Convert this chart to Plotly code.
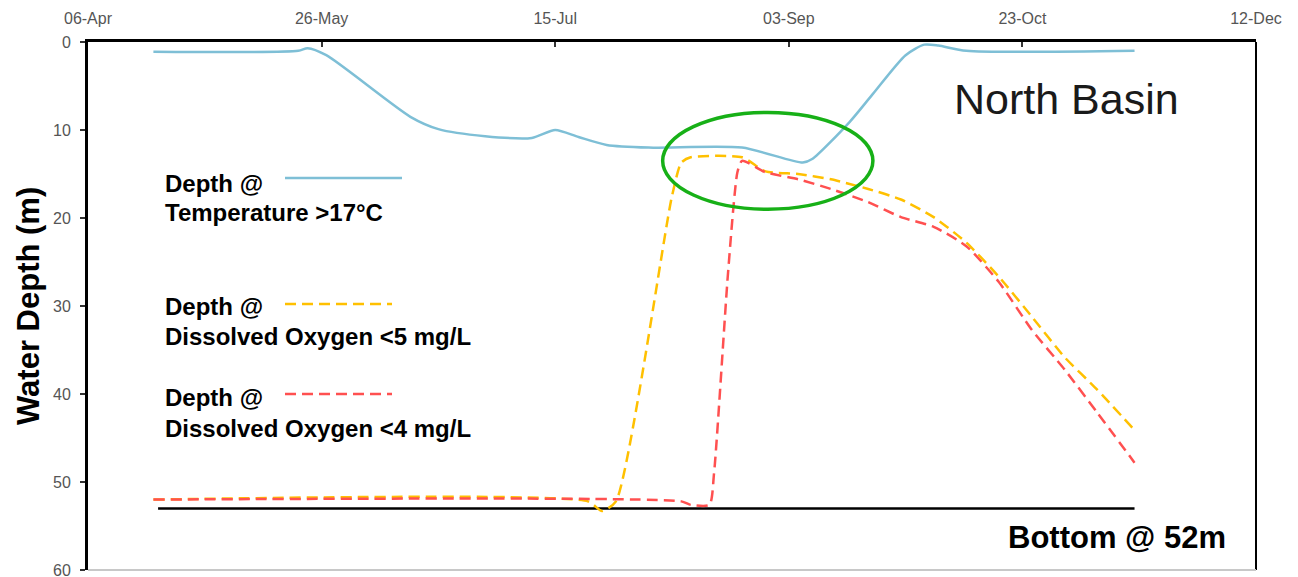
import plotly.graph_objects as go

# ---------------- data ----------------
temp_dates = ["2011-04-20", "2011-05-21", "2011-05-23", "2011-05-27", "2011-06-14",
              "2011-06-20", "2011-06-30", "2011-07-10", "2011-07-15", "2011-07-20",
              "2011-07-26", "2011-08-04", "2011-08-24", "2011-09-06", "2011-09-08",
              "2011-09-16", "2011-09-21", "2011-09-28", "2011-10-02", "2011-10-05",
              "2011-10-11", "2011-11-16"]
temp_depth = [1.1, 1.0, 0.7, 1.5, 8.5, 9.9, 10.7, 10.9, 10.0, 10.8,
              11.7, 12.0, 12.0, 13.7, 13.3, 9.1, 5.9, 1.5, 0.3, 0.4,
              1.0, 1.0]

do5_dates = ["2011-04-20", "2011-07-22", "2011-07-25", "2011-07-28", "2011-08-09",
             "2011-08-11", "2011-08-13", "2011-08-24", "2011-08-29", "2011-09-05",
             "2011-09-12", "2011-09-20", "2011-09-27", "2011-10-04", "2011-10-11",
             "2011-10-18", "2011-10-25", "2011-11-01", "2011-11-08", "2011-11-16"]
do5_depth = [52.0, 52.2, 53.3, 52.2, 17.5, 13.7, 13.1, 13.1, 14.7, 15.0,
             15.6, 16.7, 17.9, 19.9, 22.8, 26.7, 31.2, 35.8, 39.5, 44.1]

do4_dates = ["2011-04-20", "2011-08-11", "2011-08-13", "2011-08-17", "2011-08-18",
             "2011-08-21", "2011-08-23", "2011-08-24", "2011-08-29", "2011-09-05",
             "2011-09-12", "2011-09-20", "2011-09-27", "2011-10-04", "2011-10-11",
             "2011-10-18", "2011-10-25", "2011-11-01", "2011-11-08", "2011-11-16"]
do4_depth = [52.0, 52.2, 52.6, 52.6, 49.0, 26.2, 14.8, 13.5, 14.8, 15.6,
             16.7, 18.2, 19.9, 21.0, 23.2, 27.3, 32.7, 37.2, 42.1, 47.8]

bottom_dates = ["2011-04-21", "2011-11-16"]
bottom_depth = [53, 53]

x_ticks = ["2011-04-06", "2011-05-26", "2011-07-15", "2011-09-03", "2011-10-23", "2011-12-12"]
y_ticks = [0, 10, 20, 30, 40, 50, 60]

# ---------------- layout helpers ----------------
# page pixel coordinates of the plot area (the page body adds an 8px offset)
OFF = 8
W, H = 1298 - OFF, 577 - OFF
L, R, T, B = 88, 1256, 42, 570


def px(x):
    return (x - L) / (R - L)


def py(y):
    return (B - y) / (B - T)


FONT = "Liberation Sans, Arial, sans-serif"
BLUE = "#7EBFD6"
YELLOW = "#FFC000"
RED = "#FF5050"
GREEN = "#17B017"
DASH = "11px,6px"

fig = go.Figure()
fig.add_trace(go.Scatter(x=bottom_dates, y=bottom_depth, mode="lines",
                         line=dict(color="black", width=2.5), hoverinfo="skip"))
fig.add_trace(go.Scatter(x=do5_dates, y=do5_depth, mode="lines",
                         line=dict(color=YELLOW, width=2.5, dash=DASH,
                                   shape="spline", smoothing=0.6)))
fig.add_trace(go.Scatter(x=do4_dates, y=do4_depth, mode="lines",
                         line=dict(color=RED, width=2.5, dash=DASH,
                                   shape="spline", smoothing=0.6)))
fig.add_trace(go.Scatter(x=temp_dates, y=temp_depth, mode="lines",
                         line=dict(color=BLUE, width=2.5, shape="spline", smoothing=0.7)))

shapes = [
    # ellipse highlight
    dict(type="circle", xref="x", yref="y", x0="2011-08-07", x1="2011-09-21",
         y0=8.0, y1=19.0, line=dict(color=GREEN, width=3.5)),
    # frame: right black, bottom grey
    dict(type="line", xref="paper", yref="paper", x0=1, x1=1, y0=0, y1=1,
         line=dict(color="black", width=2)),
    dict(type="line", xref="paper", yref="paper", x0=0, x1=1, y0=0, y1=0,
         line=dict(color="#C8C8C8", width=2)),
    # legend samples
    dict(type="line", xref="paper", yref="paper", x0=px(285), x1=px(402), y0=py(178), y1=py(178),
         line=dict(color=BLUE, width=2.5)),
    dict(type="line", xref="paper", yref="paper", x0=px(285), x1=px(392), y0=py(304), y1=py(304),
         line=dict(color=YELLOW, width=2.5, dash=DASH)),
    dict(type="line", xref="paper", yref="paper", x0=px(285), x1=px(392), y0=py(394), y1=py(394),
         line=dict(color=RED, width=2.5, dash=DASH)),
]


def ann(text, x, y, size, bold=True, xanchor="left", color="black", angle=0):
    return dict(text=("<b>%s</b>" % text) if bold else text, x=px(x), y=py(y),
                xref="paper", yref="paper", xanchor=xanchor, yanchor="middle",
                showarrow=False, textangle=angle,
                font=dict(family=FONT, size=size, color=color))


annotations = [
    ann("Depth @", 163, 183, 24),
    ann("Temperature &gt;17°C", 163, 212, 24),
    ann("Depth @", 163, 306, 24),
    ann("Dissolved Oxygen &lt;5 mg/L", 163, 336, 24),
    ann("Depth @", 163, 397, 24),
    ann("Dissolved Oxygen &lt;4 mg/L", 163, 428, 24),
    ann("North Basin", 1066, 99, 43, bold=False, xanchor="center", color="#1a1a1a"),
    ann("Bottom @ 52m", 1117, 537, 31, xanchor="center"),
    ann("Water Depth (m)", 28, 306, 31, xanchor="center", angle=-90),
]

fig.update_layout(
    width=W, height=H,
    margin=dict(l=L - OFF, r=W + OFF - R, t=T - OFF, b=H + OFF - B),
    paper_bgcolor="white", plot_bgcolor="white",
    showlegend=False,
    shapes=shapes, annotations=annotations,
    font=dict(family=FONT),
    xaxis=dict(type="date", side="top", range=["2011-04-06", "2011-12-12"],
               tickvals=x_ticks, tickformat="%d-%b", automargin=False,
               ticks="inside", ticklen=5, tickwidth=1.5, tickcolor="#333",
               showline=True, linecolor="black", linewidth=3,
               showgrid=False, zeroline=False, ticklabelstandoff=9,
               ticklabeloverflow="allow",
               tickfont=dict(family=FONT, size=16, color="#555")),
    yaxis=dict(range=[60, 0], tickvals=y_ticks, automargin=False,
               ticks="outside", ticklen=5, tickwidth=1.5, tickcolor="#333",
               showline=True, linecolor="black", linewidth=3,
               showgrid=False, zeroline=False, ticklabelstandoff=6,
               ticklabeloverflow="allow",
               tickfont=dict(family=FONT, size=16, color="#555")),
)

fig.write_html("out.html")
